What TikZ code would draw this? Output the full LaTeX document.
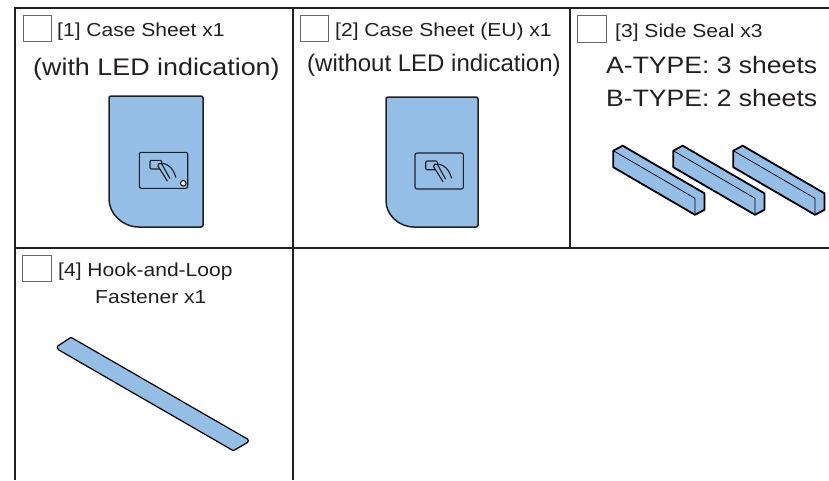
\documentclass[tikz,border=0pt]{standalone}
\usepackage{fontspec}
\setmainfont{Liberation Sans}[FakeStretch=1.12]
\newfontfamily\plainsans{Liberation Sans}
\definecolor{sheetblue}{HTML}{94BEE6}
\definecolor{ink}{HTML}{231F20}
\begin{document}
\begin{tikzpicture}[x=1pt,y=-1pt,
  grid/.style={draw=ink, line width=1.6pt},
  tickbox/.style={draw=black!60, line width=0.8pt, fill=white},
  lbl/.style={inner sep=0pt, anchor=base west, text=ink},
  title/.style={lbl, font=\fontsize{18.8}{22}\selectfont},
  sub/.style={lbl, font=\fontsize{24}{28}\selectfont},
  sheet/.style={draw=ink, line width=1.5pt, fill=sheetblue, line join=round},
  iconline/.style={draw=ink, line width=1.1pt, line join=round, line cap=round},
  sealline/.style={draw=black, line width=1.8pt, fill=sheetblue, line join=round},
  sealedge/.style={draw=black, line width=0.7pt},
  touchicon/.pic={
    \draw[iconline, rounded corners=2] (0,0) rectangle (48.4,36);
    \draw[iconline, rounded corners=1.2] (10.7,8) rectangle (22.4,16.7);
    \draw[iconline, fill=sheetblue] (28,28.7) -- (18.5,13.5)
      .. controls (18,11.5) and (21,10) .. (22.4,11.5) -- (30.5,26);
    \draw[iconline] (23.5,11) .. controls (29,12) and (34,16) .. (36.5,25);
  },
  seal/.pic={
    \draw[sealline] (0,0) -- (9.4,-5) -- (91.1,42.6) -- (91.1,59.1)
      -- (81.7,64.1) -- (0,16.5) -- cycle;
    \draw[sealedge] (0,0) -- (81.7,47.6) -- (81.7,64.1);
  }
]
\useasboundingbox (0,0) rectangle (829,480);

% table rules
\draw[grid] (15,480) -- (15,8) -- (829,8);
\draw[grid] (15,248) -- (829,248);
\draw[grid] (293,8) -- (293,480);
\draw[grid] (570,8) -- (570,248);

% check boxes
\draw[tickbox] (23,15) rectangle (51,41.7);
\draw[tickbox] (300,15) rectangle (328,41.7);
\draw[tickbox] (577,15) rectangle (606,42);
\draw[tickbox] (22.3,255.3) rectangle (51,281.3);

% item labels
\node[title] (t1) at (57,36) {[1] Case Sheet x1};
\node[sub] (s1) at (33,75) {(with LED indication)};
\node[title] (t2) at (335,36) {[2] Case Sheet (EU) x1};
\node[sub, font=\plainsans\fontsize{24}{28}\selectfont] (s2) at (307,71) {(without LED indication)};
\node[title] (t3) at (615,37) {[3] Side Seal x3};
\node[lbl, font=\fontsize{23.7}{28}\selectfont] (a3) at (606,73.3) {A-TYPE: 3 sheets};
\node[lbl, font=\fontsize{23.7}{28}\selectfont] (b3) at (606,106) {B-TYPE: 2 sheets};
\node[title] (t4) at (58,276.3) {[4] Hook-and-Loop};
\node[title] (f4) at (95,303) {Fastener x1};

% case sheet with LED
\draw[sheet] (109,197) .. controls (109,213.6) and (122.4,227) .. (139,227)
  [rounded corners=2] -- (203,227) -- (203,96) -- (109,96) -- cycle;
\pic at (139.3,152.3) {touchicon};
\draw[iconline, fill=white] (183.3,183.3) circle (2.8);

% case sheet without LED
\draw[sheet] (386,199) .. controls (386,214.5) and (398.5,227) .. (414,227)
  [rounded corners=2] -- (478,227) -- (478,97) -- (386,97) -- cycle;
\pic at (415,153) {touchicon};

% side seals
\pic at (613.3,150.7) {seal};
\pic at (673.3,150.7) {seal};
\pic at (733.3,150.7) {seal};

% hook-and-loop strip
\draw[draw=black, line width=1.2pt, fill=sheetblue, line join=round, rounded corners=1]
  (71,337.3) -- (248.3,439.5) -- (248.3,442) -- (233.3,450.7)
  -- (58,349.5) -- (57,346.5) -- cycle;
\end{tikzpicture}
\end{document}
